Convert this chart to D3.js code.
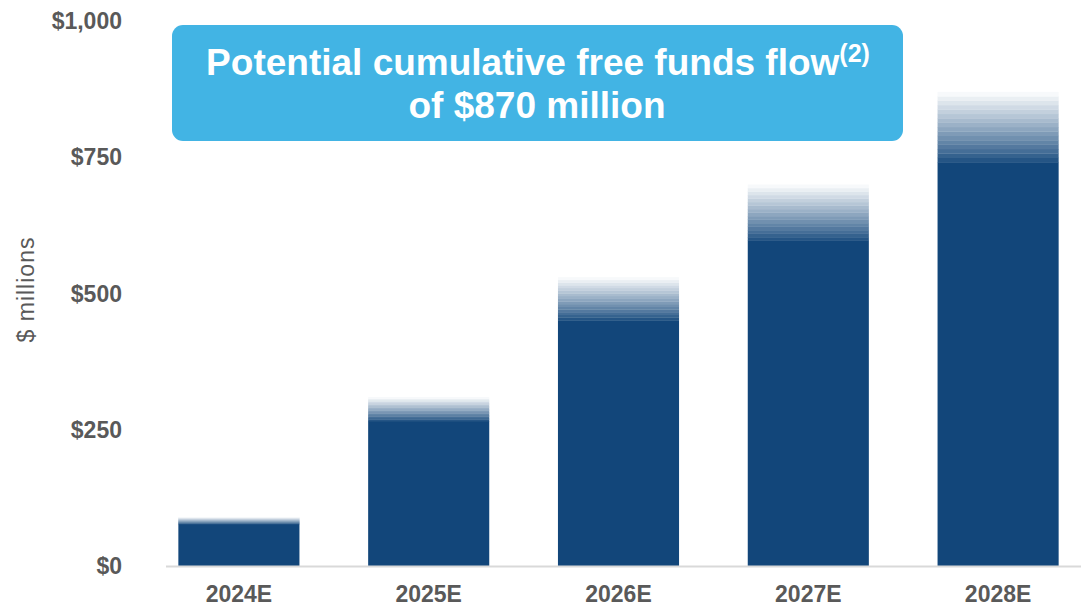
<!DOCTYPE html>
<html>
<head>
<meta charset="utf-8">
<script src="https://cdn.jsdelivr.net/npm/d3@7"></script>
<style>
  html, body { margin: 0; padding: 0; background: #ffffff; }
  svg { display: block; }
</style>
</head>
<body>
<svg id="chart" width="1081" height="606"></svg>
<script>
// ---- data ----
const categories = ["2024E", "2025E", "2026E", "2027E", "2028E"];
const solidValues = [77, 266, 451, 597, 741];   // top of solid part ($ millions)
const totalValues = [90, 310, 530, 700, 870];   // top of faded range ($ millions)
const yTicks = [0, 250, 500, 750, 1000];
const yTickLabels = ["$0", "$250", "$500", "$750", "$1,000"];
const yAxisTitle = "$ millions";
const calloutLine1 = "Potential cumulative free funds flow";
const calloutSup = "(2)";
const calloutLine2 = "of $870 million";

// ---- styles ----
const barColor = "#12467A";
const boxColor = "#42B4E4";
const textGray = "#595959";
const axisColor = "#D9D9D9";
const font = "'Liberation Sans', Arial, Helvetica, sans-serif";
const nBands = 16;

const svg = d3.select("#chart");

const x = d3.scaleBand().domain(categories).range([144, 1093])
  .paddingInner(0.362).paddingOuter(0.181);
const y = d3.scaleLinear().domain([0, 1000]).range([566, 21]);

// y tick labels
svg.append("g").selectAll("text").data(yTicks).join("text")
  .attr("x", 122)
  .attr("y", d => y(d))
  .attr("dy", "0.35em")
  .attr("text-anchor", "end")
  .attr("font-family", font)
  .attr("font-weight", "bold")
  .attr("font-size", 23)
  .attr("fill", textGray)
  .text((d, i) => yTickLabels[i]);

// y axis title
svg.append("text")
  .attr("transform", `translate(34, ${y(500) - 4}) rotate(-90)`)
  .attr("text-anchor", "middle")
  .attr("font-family", font)
  .attr("font-size", 23)
  .attr("letter-spacing", 1)
  .attr("fill", textGray)
  .text(yAxisTitle);

// bars
const data = categories.map((c, i) => ({ c, lo: solidValues[i], hi: totalValues[i] }));
const colorAt = d3.interpolateRgb(barColor, "#ffffff");
const gBars = svg.append("g");
data.forEach(d => {
  gBars.append("rect")
    .attr("x", x(d.c))
    .attr("width", x.bandwidth())
    .attr("y", y(d.lo))
    .attr("height", y(0) - y(d.lo))
    .attr("fill", barColor);
  const step = (d.hi - d.lo) / nBands;
  for (let i = 0; i < nBands; i++) {
    const v0 = d.lo + i * step, v1 = d.lo + (i + 1) * step;
    const t = Math.pow((i + 1) / (nBands + 0.6), 0.9);
    gBars.append("rect")
      .attr("x", x(d.c))
      .attr("width", x.bandwidth())
      .attr("y", y(v1))
      .attr("height", y(v0) - y(v1) + 0.3)
      .attr("fill", colorAt(Math.min(t, 0.97)));
  }
});

// baseline
svg.append("line")
  .attr("x1", 166).attr("x2", 1081)
  .attr("y1", y(0) + 0.5).attr("y2", y(0) + 0.5)
  .attr("stroke", axisColor).attr("stroke-width", 2);

// x labels
const xAxis = d3.axisBottom(x).tickSize(0).tickPadding(0);
const gx = svg.append("g").attr("transform", `translate(0, ${y(0)})`).call(xAxis);
gx.select(".domain").remove();
gx.selectAll("text")
  .attr("y", 36)
  .attr("dy", 0)
  .attr("font-family", font)
  .attr("font-weight", "bold")
  .attr("font-size", 23)
  .attr("fill", textGray);

// callout box
const box = svg.append("g");
box.append("rect")
  .attr("x", 172).attr("y", 25)
  .attr("width", 731).attr("height", 116)
  .attr("rx", 11).attr("ry", 11)
  .attr("fill", boxColor);
const t1 = box.append("text")
  .attr("x", 538).attr("y", 75)
  .attr("text-anchor", "middle")
  .attr("font-family", font)
  .attr("font-weight", "bold")
  .attr("font-size", 37)
  .attr("fill", "#ffffff");
t1.append("tspan").text(calloutLine1);
t1.append("tspan").attr("font-size", 25).attr("dy", -13).text(calloutSup);
box.append("text")
  .attr("x", 537).attr("y", 118)
  .attr("text-anchor", "middle")
  .attr("font-family", font)
  .attr("font-weight", "bold")
  .attr("font-size", 37)
  .attr("fill", "#ffffff")
  .text(calloutLine2);
</script>
</body>
</html>
